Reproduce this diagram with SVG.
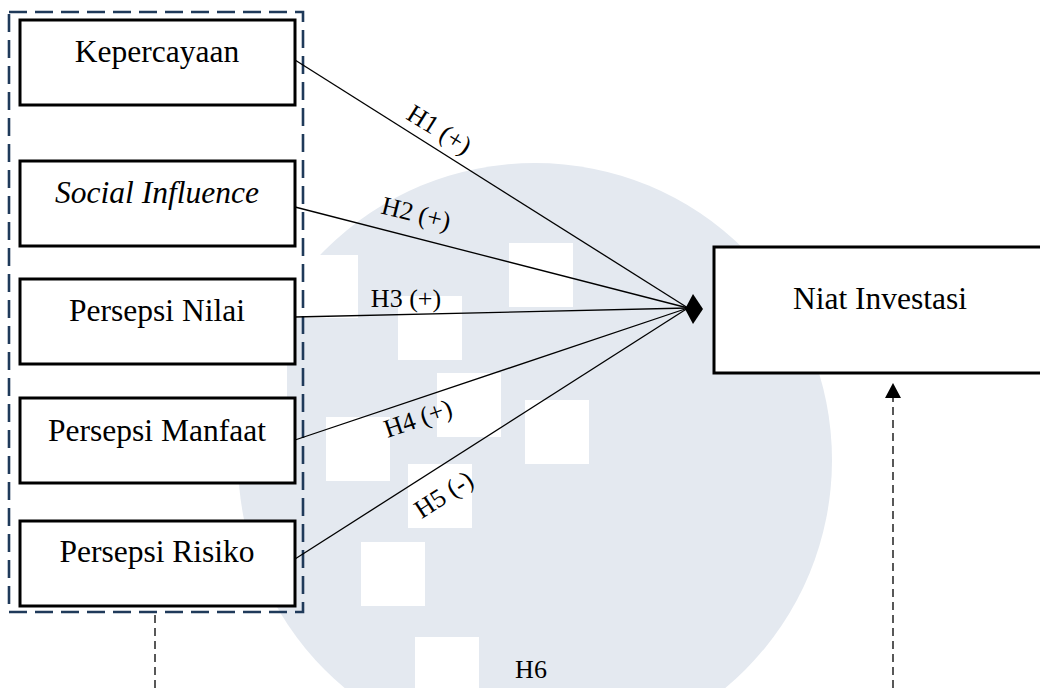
<svg xmlns="http://www.w3.org/2000/svg" width="1040" height="688" viewBox="0 0 1040 688">
<style>
.bg{fill:#E4E9F0}
.sq{fill:#FFFFFF}
.box{fill:#FFFFFF;stroke:#000;stroke-width:3}
.lbl{font-family:"Liberation Serif","Times New Roman",serif;font-size:31.5px;fill:#000;text-anchor:middle}
.h{font-family:"Liberation Serif","Times New Roman",serif;font-size:26px;fill:#000;text-anchor:middle}
.con{stroke:#000;stroke-width:1.3;fill:none}
.dash{stroke:#222;stroke-width:1.5;fill:none;stroke-dasharray:8 5}
</style>
<rect width="1040" height="688" fill="#FFFFFF"/>
<g id="watermark">
<circle class="bg" cx="535" cy="460" r="297"/>
<rect class="sq" x="509" y="243" width="64" height="64"/>
<rect class="sq" x="398" y="296" width="64" height="64"/>
<rect class="sq" x="294" y="255" width="64" height="63"/>
<rect class="sq" x="223" y="340" width="64" height="64"/>
<rect class="sq" x="437" y="373" width="64" height="64"/>
<rect class="sq" x="525" y="400" width="64" height="64"/>
<rect class="sq" x="326" y="417" width="64" height="64"/>
<rect class="sq" x="408" y="464" width="64" height="64"/>
<rect class="sq" x="361" y="542" width="64" height="64"/>
<rect class="sq" x="415" y="637" width="64" height="64"/>
</g>
<g id="group-box">
<rect x="9" y="12" width="294" height="600" fill="none" stroke="#1F3A5A" stroke-width="2.6" stroke-dasharray="18 8"/>
</g>
<g id="kepercayaan">
<rect class="box" x="20" y="20" width="275" height="85"/>
<text class="lbl" x="157" y="62">Kepercayaan</text>
</g>
<g id="social-influence">
<rect class="box" x="20" y="161" width="275" height="85"/>
<text class="lbl" x="157" y="203" font-style="italic">Social Influence</text>
</g>
<g id="persepsi-nilai">
<rect class="box" x="20" y="279" width="275" height="85"/>
<text class="lbl" x="157" y="321">Persepsi Nilai</text>
</g>
<g id="persepsi-manfaat">
<rect class="box" x="20" y="398" width="275" height="85"/>
<text class="lbl" x="157" y="441">Persepsi Manfaat</text>
</g>
<g id="persepsi-risiko">
<rect class="box" x="20" y="521" width="275" height="85"/>
<text class="lbl" x="157" y="562">Persepsi Risiko</text>
</g>
<g id="niat-investasi">
<rect class="box" x="714" y="247" width="333" height="126"/>
<text class="lbl" x="880" y="309">Niat Investasi</text>
</g>
<g id="connectors">
<line class="con" x1="295" y1="60" x2="688" y2="308"/>
<line class="con" x1="295" y1="207" x2="688" y2="308"/>
<line class="con" x1="295" y1="317" x2="688" y2="308"/>
<line class="con" x1="295" y1="440" x2="688" y2="308"/>
<line class="con" x1="295" y1="559" x2="688" y2="308"/>
<polygon points="703,309 693,294 685,309 693,324" fill="#000"/>
<line class="dash" x1="155" y1="615" x2="155" y2="688"/>
<line class="dash" x1="893" y1="688" x2="893" y2="398"/>
<path d="M893,383 L901,398 L885,398 Z" fill="#000"/>
</g>
<g id="labels">
<text class="h" transform="translate(439,130) rotate(32)" y="8">H1 (+)</text>
<text class="h" transform="translate(416,214) rotate(14)" y="8">H2 (+)</text>
<text class="h" x="406" y="307">H3 (+)</text>
<text class="h" transform="translate(418,419) rotate(-19)" y="8">H4 (+)</text>
<text class="h" transform="translate(444,495) rotate(-33)" y="8">H5 (-)</text>
<text class="h" x="531" y="678">H6</text>
</g>
</svg>
